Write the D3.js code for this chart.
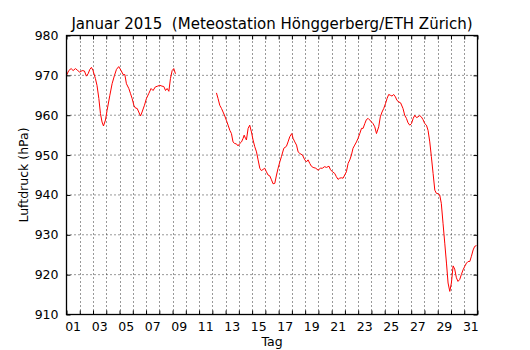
<!DOCTYPE html>
<html>
<head>
<meta charset="utf-8">
<script src="https://cdn.jsdelivr.net/npm/d3@7"></script>
<style>
  body { margin: 0; background: #fff; }
  text { font-family: "DejaVu Sans", sans-serif; }
</style>
</head>
<body>
<div id="chart"></div>
<script>
// time in days (1.0 = 1 Jan 00:00), null marks the data gap
var tag = [
  1.00, 1.17, 1.35, 1.50, 1.68, 1.85, 2.00, 2.18, 2.35, 2.50, 2.63, 2.76, 2.88,
  3.00, 3.18, 3.30, 3.44, 3.56, 3.68, 3.79, 3.94, 4.06, 4.27, 4.44, 4.62, 4.77,
  4.94, 5.12, 5.27, 5.40, 5.52, 5.70, 5.83, 5.95, 6.08, 6.20, 6.33, 6.45, 6.58,
  6.70, 6.88, 7.03, 7.20, 7.38, 7.53, 7.70, 7.88, 8.04, 8.20, 8.34, 8.47, 8.59,
  8.72, 8.84, 8.97, 9.09, 9.22,
  10.5,
  12.31, 12.43, 12.56, 12.69, 12.81, 12.94, 13.07, 13.19, 13.32, 13.44, 13.56,
  13.69, 13.82, 13.94, 14.07, 14.20, 14.32, 14.40, 14.50, 14.57, 14.70, 14.82,
  14.95, 15.07, 15.20, 15.33, 15.45, 15.58, 15.70, 15.83, 15.95, 16.08, 16.20,
  16.33, 16.46, 16.58, 16.71, 16.84, 16.96, 17.09, 17.21, 17.39, 17.59, 17.71,
  17.84, 17.99, 18.09, 18.22, 18.35, 18.47, 18.60, 18.80, 18.97, 19.10, 19.22,
  19.35, 19.47, 19.60, 19.80, 19.98, 20.15, 20.30, 20.47, 20.60, 20.80, 20.90,
  21.06, 21.23, 21.35, 21.48, 21.60, 21.73, 21.86, 22.11, 22.24, 22.37, 22.49,
  22.61, 22.74, 22.87, 22.99, 23.12, 23.25, 23.37, 23.50, 23.62, 23.75, 23.87,
  24.00, 24.12, 24.25, 24.38, 24.55, 24.67, 24.80, 24.93, 25.06, 25.18, 25.30,
  25.43, 25.55, 25.68, 25.81, 25.93, 26.08, 26.20, 26.38, 26.51, 26.64, 26.76,
  26.89, 27.02, 27.15, 27.27, 27.40, 27.52, 27.64, 27.76, 27.89, 28.02, 28.15,
  28.27, 28.40, 28.52, 28.65, 28.78, 28.90, 29.02, 29.15, 29.27, 29.40, 29.53,
  29.66, 29.78, 29.91, 30.03, 30.16, 30.28, 30.41, 30.53, 30.66, 30.78, 30.91,
  31.04, 31.17, 31.29, 31.42, 31.54, 31.67, 31.79, 31.92
];
// air pressure in hPa
var luftdruck = [
  970.0, 971.2, 971.7, 971.2, 971.7, 971.2, 970.8, 971.2, 971.1, 969.8, 970.4, 971.5, 972.0,
  971.2, 969.2, 967.5, 964.2, 960.4, 958.3, 957.3, 958.8, 961.2, 965.0, 967.9, 970.0, 971.5,
  972.2, 971.2, 970.2, 970.2, 967.9, 966.7, 965.4, 964.2, 962.5, 961.8, 961.7, 960.8, 959.8,
  960.8, 962.5, 964.2, 965.4, 966.7, 966.2, 967.1, 967.3, 967.5, 967.3, 967.2, 966.2, 966.7,
  966.0, 969.2, 971.2, 971.7, 970.4,
  null,
  965.6, 964.2, 962.5, 961.7, 960.8, 959.8, 958.6, 957.5, 956.2, 955.4, 953.3,
  952.9, 952.8, 952.3, 952.9, 953.3, 954.2, 955.0, 954.2, 953.8, 956.7, 957.5,
  955.8, 953.8, 952.1, 950.8, 948.8, 946.7, 946.1, 946.4, 946.7, 945.8, 945.0,
  944.8, 943.8, 942.8, 942.9, 945.0, 946.7, 948.3, 949.6, 951.7, 952.2, 953.3,
  954.6, 955.4, 954.2, 953.3, 952.5, 950.8, 950.4, 950.0, 948.8, 948.3, 948.8,
  947.9, 947.2, 946.9, 946.7, 946.2, 946.7, 946.7, 947.1, 946.9, 947.2, 946.4,
  945.8, 945.4, 944.6, 943.9, 944.2, 944.3, 944.2, 945.8, 947.9, 948.8, 950.0,
  951.7, 952.5, 953.3, 954.2, 955.4, 956.7, 956.7, 957.9, 958.9, 959.2, 958.8,
  958.3, 957.9, 957.1, 955.4, 957.1, 959.6, 960.8, 961.7, 962.9, 964.2, 965.2,
  965.0, 964.8, 965.2, 964.6, 963.7, 963.3, 963.1, 961.7, 960.0, 959.2, 958.1,
  957.5, 957.9, 959.2, 960.0, 959.4, 959.6, 959.9, 959.6, 958.9, 957.9, 957.5,
  956.2, 953.3, 949.6, 945.4, 941.2, 940.4, 940.3, 940.0, 937.9, 932.9, 927.9,
  922.9, 917.9, 915.8, 917.9, 922.2, 921.4, 919.2, 918.3, 918.8, 920.0, 921.2,
  922.1, 922.9, 923.3, 923.3, 924.6, 926.2, 927.1, 927.3, 927.1, 927.0, 927.2,
  927.1, 927.0, 927.2, 927.3
];
var yTicks = [910, 920, 930, 940, 950, 960, 970, 980];
var dayLabels = ["01", "03", "05", "07", "09", "11", "13", "15",
                 "17", "19", "21", "23", "25", "27", "29", "31"];

var w = 530, h = 350;
var m = {left: 66.5, right: 52.5, top: 35.5, bottom: 35.5};

var svg = d3.select("#chart").append("svg")
    .attr("width", w)
    .attr("height", h);

var x = d3.scaleLinear().domain([1, 32]).range([m.left, w - m.right]);
var y = d3.scaleLinear().domain([910, 980]).range([h - m.bottom, m.top]);

var dayBounds = d3.range(2, 32);

// grid
svg.append("g").selectAll("line").data(dayBounds).enter().append("line")
    .attr("x1", function(d) { return Math.round(x(d)) + 0.5; })
    .attr("x2", function(d) { return Math.round(x(d)) + 0.5; })
    .attr("y1", y(910)).attr("y2", y(980))
    .attr("stroke", "#333").attr("stroke-width", 1)
    .attr("stroke-dasharray", "1,3");
svg.append("g").selectAll("line").data(yTicks.slice(1, -1)).enter().append("line")
    .attr("x1", x(1)).attr("x2", x(32))
    .attr("y1", function(d) { return y(d); })
    .attr("y2", function(d) { return y(d); })
    .attr("stroke", "#333").attr("stroke-width", 1)
    .attr("stroke-dasharray", "1,3");

// data line
var line = d3.line()
    .defined(function(d) { return d[1] !== null; })
    .x(function(d) { return x(d[0]); })
    .y(function(d) { return y(d[1]); });
svg.append("path")
    .datum(d3.zip(tag, luftdruck))
    .attr("fill", "none")
    .attr("stroke", "red")
    .attr("stroke-width", 1)
    .attr("d", line);

// axes (ticks inward, on all sides)
var fmtY = d3.format("d");
svg.append("g")
    .attr("transform", "translate(" + m.left + ",0)")
    .call(d3.axisLeft(y).tickValues(yTicks).tickFormat(fmtY).tickSizeInner(-4).tickSizeOuter(0).tickPadding(8));
svg.append("g")
    .attr("transform", "translate(" + (w - m.right) + ",0)")
    .call(d3.axisRight(y).tickValues(yTicks).tickFormat("").tickSizeInner(-4).tickSizeOuter(0));
svg.append("g")
    .attr("transform", "translate(0," + (h - m.bottom) + ")")
    .call(d3.axisBottom(x).tickValues(d3.range(1, 33)).tickFormat("").tickSizeInner(-4).tickSizeOuter(0));
svg.append("g")
    .attr("transform", "translate(0," + m.top + ")")
    .call(d3.axisTop(x).tickValues(d3.range(1, 33)).tickFormat("").tickSizeInner(-4).tickSizeOuter(0));

// day labels at noon of each odd day
svg.append("g").selectAll("text").data(dayLabels).enter().append("text")
    .attr("x", function(d) { return x(+d + 0.5); })
    .attr("y", h - m.bottom + 16)
    .attr("text-anchor", "middle")
    .attr("font-size", 12.5)
    .text(function(d) { return d; });

svg.selectAll(".tick text").attr("font-size", 12.5).attr("font-family", "DejaVu Sans").attr("fill", "#000");
svg.selectAll(".tick line").attr("stroke", "#000");
svg.selectAll(".domain").remove();

// frame
svg.append("rect")
    .attr("x", m.left).attr("y", m.top)
    .attr("width", w - m.left - m.right)
    .attr("height", h - m.top - m.bottom)
    .attr("fill", "none").attr("stroke", "#000").attr("stroke-width", 1.3);

// labels
svg.append("text")
    .attr("x", (m.left + w - m.right) / 2)
    .attr("y", 29)
    .attr("text-anchor", "middle")
    .attr("font-size", 15)
    .style("white-space", "pre")
    .text("Januar 2015  (Meteostation Hönggerberg/ETH Zürich)");
svg.append("text")
    .attr("x", (m.left + w - m.right) / 2)
    .attr("y", 346)
    .attr("text-anchor", "middle")
    .attr("font-size", 12.5)
    .text("Tag");
svg.append("text")
    .attr("transform", "translate(28," + ((m.top + h - m.bottom) / 2) + ") rotate(-90)")
    .attr("text-anchor", "middle")
    .attr("font-size", 12.5)
    .text("Luftdruck (hPa)");
</script>
</body>
</html>
